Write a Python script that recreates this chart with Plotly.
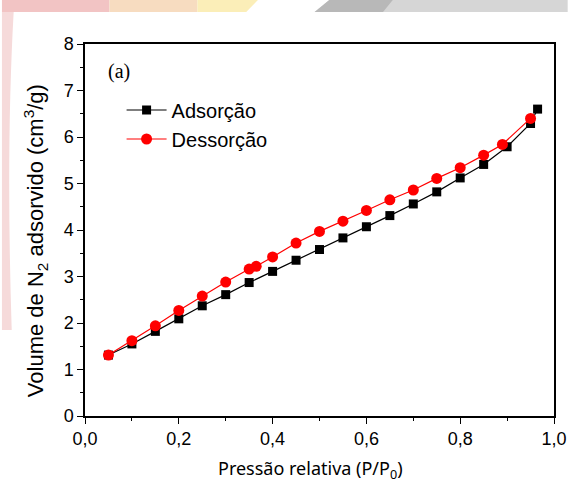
import plotly.graph_objects as go

# Data
ads_x = [0.05, 0.10, 0.15, 0.20, 0.25, 0.30, 0.35, 0.40, 0.45, 0.50, 0.55, 0.60,
         0.65, 0.70, 0.75, 0.80, 0.85, 0.90, 0.95, 0.965]
ads_y = [1.31, 1.55, 1.82, 2.09, 2.37, 2.61, 2.87, 3.11, 3.35, 3.58, 3.83, 4.07,
         4.31, 4.56, 4.82, 5.12, 5.41, 5.79, 6.29, 6.60]

des_x = [0.05, 0.10, 0.15, 0.20, 0.25, 0.30, 0.35, 0.365, 0.40, 0.45, 0.50, 0.55,
         0.60, 0.65, 0.70, 0.75, 0.80, 0.85, 0.89, 0.95]
des_y = [1.31, 1.62, 1.94, 2.27, 2.58, 2.88, 3.16, 3.22, 3.42, 3.72, 3.97, 4.19,
         4.42, 4.65, 4.86, 5.11, 5.34, 5.61, 5.84, 6.40]

x_ticks = [0.0, 0.2, 0.4, 0.6, 0.8, 1.0]
x_tick_labels = ["0,0", "0,2", "0,4", "0,6", "0,8", "1,0"]
y_ticks = [0, 1, 2, 3, 4, 5, 6, 7, 8]

fig = go.Figure()
fig.add_trace(go.Scatter(
    x=ads_x, y=ads_y, mode="lines+markers", name="Adsorção",
    line=dict(color="black", width=1.2),
    marker=dict(symbol="square", size=9, color="black"),
))
fig.add_trace(go.Scatter(
    x=des_x, y=des_y, mode="lines+markers", name="Dessorção",
    line=dict(color="red", width=1.2),
    marker=dict(symbol="circle", size=11, color="red"),
))

font_family = "Liberation Sans, Arial, sans-serif"

axis_common = dict(
    showline=True, linecolor="black", linewidth=1.5, mirror=True,
    ticks="outside", ticklen=6, tickwidth=1.2, tickcolor="black",
    showgrid=False, zeroline=False,
    tickfont=dict(family=font_family, size=18, color="black"),
)

fig.update_xaxes(
    range=[0, 1.0], tickvals=x_ticks, ticktext=x_tick_labels,
    minor=dict(ticks="outside", ticklen=3, dtick=0.1, tickcolor="black"),
    **axis_common,
)
fig.update_yaxes(
    range=[0, 8], tickvals=y_ticks,
    minor=dict(ticks="outside", ticklen=3, dtick=0.5, tickcolor="black"),
    **axis_common,
)

# Pixel -> paper coordinate helpers (plot area 85..565 x 44..416)
ph = 372.0
pw = 480.0
def px_x(p):
    return (p - 85) / pw
def px_y(p):
    return (416 - p) / ph

# Decorative banner at the top
shapes = [
    dict(type="rect", xref="paper", yref="paper", x0=px_x(0), x1=px_x(110),
         y0=px_y(12), y1=px_y(0), fillcolor="#f2c4c4", line=dict(width=0), layer="below"),
    dict(type="rect", xref="paper", yref="paper", x0=px_x(110), x1=px_x(200),
         y0=px_y(12), y1=px_y(0), fillcolor="#f7dcc0", line=dict(width=0), layer="below"),
    dict(type="path", xref="paper", yref="paper",
         path=f"M {px_x(200)},{px_y(12)} L {px_x(250)},{px_y(12)} L {px_x(262)},{px_y(0)} L {px_x(200)},{px_y(0)} Z",
         fillcolor="#fbeeb8", line=dict(width=0), layer="below"),
    dict(type="path", xref="paper", yref="paper",
         path=f"M {px_x(320)},{px_y(12)} L {px_x(579)},{px_y(12)} L {px_x(579)},{px_y(0)} L {px_x(335)},{px_y(0)} Z",
         fillcolor="#d6d6d6", line=dict(width=0), layer="below"),
    dict(type="path", xref="paper", yref="paper",
         path=f"M {px_x(320)},{px_y(12)} L {px_x(390)},{px_y(12)} L {px_x(400)},{px_y(0)} L {px_x(335)},{px_y(0)} Z",
         fillcolor="#b8b8b8", line=dict(width=0), layer="below"),
    dict(type="path", xref="paper", yref="paper",
         path=f"M {px_x(0)},{px_y(12)} L {px_x(12)},{px_y(12)} Q {px_x(4)},{px_y(150)} {px_x(10)},{px_y(330)} L {px_x(0)},{px_y(330)} Z",
         fillcolor="#f6dada", line=dict(width=0), layer="below"),
]

fig.update_layout(
    width=579, height=494,
    margin=dict(l=85, r=14, t=44, b=78),
    paper_bgcolor="white", plot_bgcolor="white",
    showlegend=True,
    legend=dict(x=0.078, y=0.875, xanchor="left", yanchor="top",
                font=dict(family=font_family, size=20, color="black"),
                bgcolor="rgba(0,0,0,0)", tracegroupgap=0, itemwidth=40),
    annotations=[
        dict(text="(a)", x=0.045, y=0.925, xref="paper", yref="paper",
             xanchor="left", yanchor="middle", showarrow=False,
             font=dict(family="Liberation Serif, Times New Roman, serif", size=20, color="black")),
        dict(text="Volume de N<sub>2</sub> adsorvido (cm<sup>3</sup>/g)",
             x=px_x(34), y=px_y(241), xref="paper", yref="paper",
             xanchor="center", yanchor="middle", textangle=-90, showarrow=False,
             font=dict(family=font_family, size=22, color="black")),
        dict(text="Pressão relativa (P/P<sub>0</sub>)",
             x=px_x(316), y=px_y(469), xref="paper", yref="paper",
             xanchor="center", yanchor="middle", showarrow=False,
             font=dict(family="Noto Sans, Open Sans, sans-serif", size=18, color="black")),
    ],
    shapes=shapes,
)

fig.write_html("out.html")
